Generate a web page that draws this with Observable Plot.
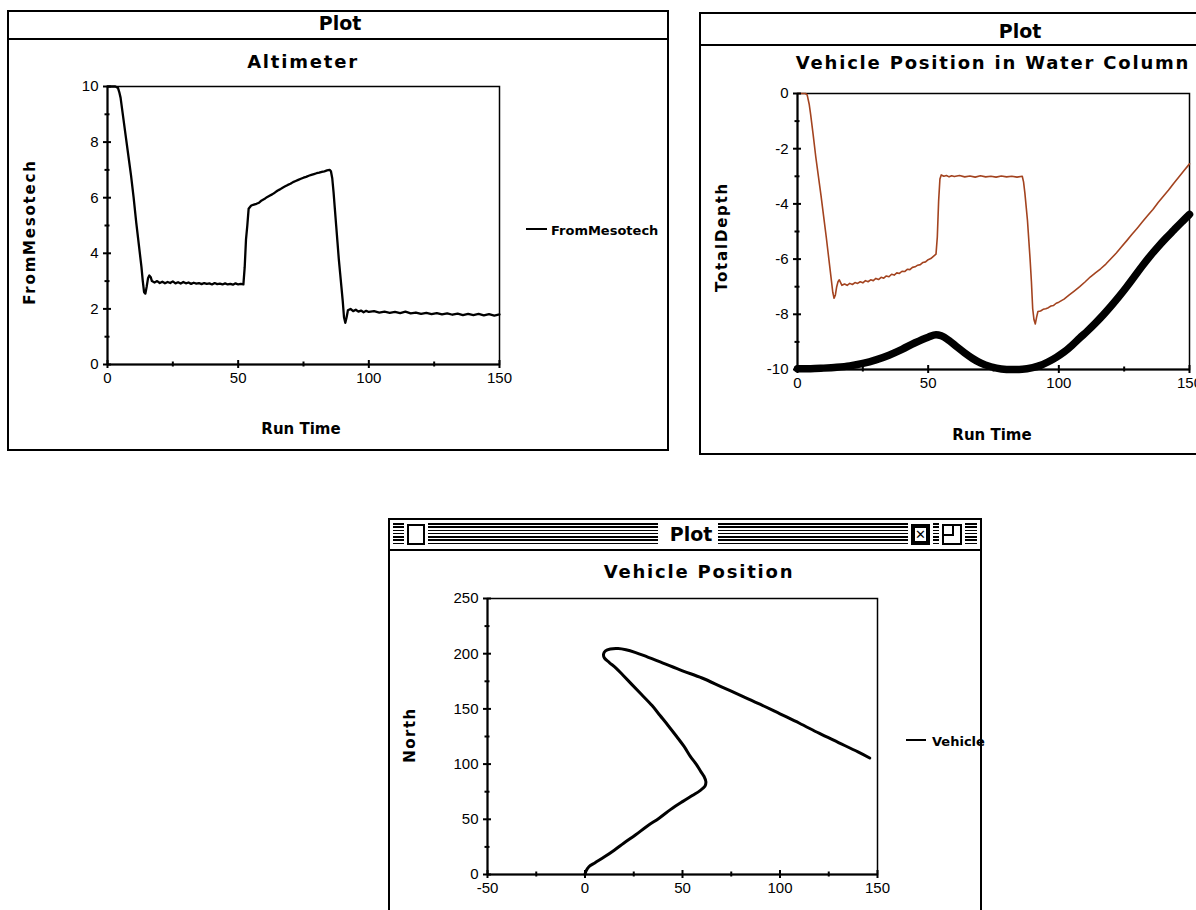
<!DOCTYPE html>
<html><head><meta charset="utf-8">
<script src="https://cdn.jsdelivr.net/npm/d3@7"></script>
<script src="https://cdn.jsdelivr.net/npm/@observablehq/plot@0.6"></script>
<style>
html,body{margin:0;padding:0;background:#fff;}
body{width:1196px;height:910px;overflow:hidden;position:relative;font-family:"DejaVu Sans",sans-serif;color:#000;}
.win{position:absolute;border:2px solid #000;box-sizing:border-box;background:#fff;}
.bar{position:absolute;left:0;right:0;top:0;border-bottom:2px solid #000;box-sizing:border-box;}
.t{position:absolute;white-space:nowrap;transform:translate(-50%,-50%);font-weight:bold;line-height:1;}
.rot{transform:translate(-50%,-50%) rotate(-90deg);}
.legline{position:absolute;height:2px;background:#000;}
.legtext{position:absolute;font:bold 13px "DejaVu Sans";line-height:1;transform:translateY(-50%);white-space:nowrap;}
svg.chart{position:absolute;}
svg.chart text{font-size:15px;font-family:"Liberation Sans",Arial,sans-serif;}
</style></head><body>
<script>
// ---------- DATA ----------
const altimeterSeries = [
[0,10],[1,10],[2,10],[3,10],[4,9.95],[4.5,9.8],[5,9.6],[6,8.9],[7,8.2],[8,7.5],[9,6.8],[10,6.0],[11,5.1],[12,4.3],[13,3.5],[13.5,3.0],[14,2.6],[14.5,2.55],[15,2.8],[15.5,3.1],[16,3.2],[16.5,3.15],[17,3.0],[18,2.95],[19,3.0],[20,2.93],[21,2.98],[22,2.92],[23,2.97],[24,2.93],[25,2.99],[26,2.92],[27,2.96],[28,2.91],[29,2.97],[30,2.92],[31,2.95],[32,2.9],[33,2.94],[34,2.91],[35,2.93],[36,2.89],[37,2.93],[38,2.9],[39,2.92],[40,2.88],[41,2.93],[42,2.89],[43,2.91],[44,2.88],[45,2.92],[46,2.88],[47,2.9],[48,2.87],[49,2.92],[50,2.88],[51,2.9],[52,2.88],[52.5,3.5],[53,4.5],[53.5,5.0],[54,5.6],[55,5.72],[56,5.75],[57,5.78],[58,5.82],[59,5.9],[60,5.95],[61,6.02],[62,6.07],[63,6.12],[64,6.18],[65,6.25],[66,6.3],[67,6.36],[68,6.41],[69,6.46],[70,6.5],[71,6.56],[72,6.6],[73,6.64],[74,6.68],[75,6.72],[76,6.75],[77,6.79],[78,6.82],[79,6.85],[80,6.88],[81,6.9],[82,6.93],[83,6.95],[84,6.98],[85,7.0],[85.5,6.95],[86,6.7],[86.5,6.2],[87,5.6],[87.5,5.0],[88,4.4],[88.5,3.8],[89,3.3],[89.5,2.8],[90,2.3],[90.5,1.7],[91,1.5],[91.5,1.7],[92,1.95],[93,2.0],[94,1.92],[95,1.97],[96,1.9],[97,1.94],[98,1.88],[99,1.93],[100,1.89],[102,1.92],[104,1.87],[106,1.9],[108,1.86],[110,1.89],[112,1.85],[114,1.9],[116,1.84],[118,1.87],[120,1.82],[122,1.86],[124,1.81],[126,1.85],[128,1.8],[130,1.84],[132,1.79],[134,1.83],[136,1.78],[138,1.82],[140,1.78],[142,1.82],[144,1.77],[146,1.81],[148,1.76],[150,1.8]
];
const totalDepthSeries = [
[0,0],[1,0],[2,0],[3,0],[3.7,-0.05],[4.5,-0.4],[5,-0.74],[6,-1.5],[7,-2.3],[8,-3.0],[9,-3.7],[10,-4.45],[11,-5.2],[12,-6.0],[13,-6.8],[13.5,-7.2],[14,-7.42],[14.5,-7.3],[15,-7.0],[15.5,-6.82],[16,-6.75],[16.5,-6.85],[17,-6.95],[18,-6.9],[19,-6.95],[20,-6.88],[21,-6.92],[22,-6.85],[23,-6.88],[24,-6.82],[25,-6.86],[26,-6.78],[27,-6.82],[28,-6.75],[29,-6.78],[30,-6.7],[31,-6.74],[32,-6.66],[33,-6.69],[34,-6.61],[35,-6.64],[36,-6.55],[37,-6.58],[38,-6.5],[39,-6.52],[40,-6.44],[41,-6.45],[42,-6.37],[43,-6.38],[44,-6.3],[45,-6.28],[46,-6.22],[47,-6.2],[48,-6.12],[49,-6.1],[50,-6.02],[51,-5.98],[52,-5.9],[53,-5.82],[53.5,-5.2],[54,-3.9],[54.5,-3.1],[55,-2.95],[56,-3.0],[57,-2.97],[58,-3.02],[59,-2.98],[60,-3.01],[62,-2.97],[64,-3.02],[66,-2.99],[68,-3.03],[70,-2.98],[72,-3.02],[74,-3.0],[76,-3.03],[78,-2.99],[80,-3.02],[82,-3.0],[84,-3.03],[86,-3.0],[86.5,-3.2],[87,-3.6],[88,-4.6],[89,-6.0],[89.5,-6.8],[90,-7.8],[90.5,-8.2],[91,-8.35],[91.5,-8.1],[92,-7.9],[93,-7.88],[94,-7.82],[95,-7.8],[96,-7.76],[97,-7.7],[98,-7.68],[99,-7.6],[100,-7.56],[102,-7.45],[104,-7.3],[106,-7.15],[108,-7.0],[110,-6.83],[112,-6.65],[114,-6.5],[116,-6.35],[118,-6.18],[120,-5.98],[122,-5.78],[124,-5.55],[126,-5.33],[128,-5.1],[130,-4.88],[132,-4.65],[134,-4.42],[136,-4.2],[138,-3.95],[140,-3.72],[142,-3.5],[144,-3.25],[146,-3.02],[148,-2.78],[150,-2.55]
];
const vehicleDepthSeries = [
[0,-9.97],[5,-9.97],[10,-9.95],[15,-9.92],[20,-9.87],[25,-9.78],[30,-9.65],[35,-9.48],[40,-9.27],[45,-9.03],[50,-8.83],[53,-8.74],[55,-8.78],[58,-8.95],[61,-9.18],[64,-9.4],[67,-9.6],[70,-9.76],[74,-9.9],[78,-9.98],[82,-10.0],[86,-9.99],[90,-9.93],[93,-9.85],[96,-9.72],[99,-9.56],[102,-9.37],[105,-9.13],[108,-8.86],[111,-8.6],[114,-8.32],[117,-8.02],[120,-7.7],[123,-7.36],[126,-7.0],[129,-6.62],[132,-6.24],[135,-5.88],[138,-5.55],[141,-5.24],[144,-4.95],[147,-4.66],[150,-4.38]
];
const vehicleTrack = [
[0,0],[0.5,3],[2,7],[5,10.5],[10,16],[15,22],[20,28.5],[26,36],[32,44],[38,51],[44,59],[50,66],[55,71.5],[59,76],[61.5,80],[62,84],[61,89],[59.5,93],[57,100],[54,107],[50.8,116],[47,125],[42.6,135],[38.5,144],[34.4,153],[29,163],[24.1,172],[19.5,180.5],[15.9,187],[12.5,192],[10,196],[9.5,199.5],[10.5,202.5],[13,204.2],[17,204.6],[21,203.5],[26,201],[30,198.5],[40,191.5],[50,184.5],[60,178],[70,170],[80,162],[90,154],[100,145.5],[110,137],[120,128],[130,119.5],[140,111],[146,105.5]
];
const timeTicks = [0,50,100,150], timeMinor = [25,75,125];
const altTicks = [0,2,4,6,8,10], altMinor = [1,3,5,7,9];
const depthTicks = [0,-2,-4,-6,-8,-10], depthMinor = [-1,-3,-5,-7,-9];
const eastTicks = [-50,0,50,100,150], eastMinor = [-25,25,75,125];
const northTicks = [0,50,100,150,200,250], northMinor = [25,75,125,175,225];

// ---------- HELPERS ----------
function el(tag, cls, css, text) {
  const e = document.createElement(tag);
  if (cls) e.className = cls;
  Object.assign(e.style, css || {});
  if (text != null) e.textContent = text;
  document.body.appendChild(e);
  return e;
}
function label(text, x, y, size, spacing, rotate) {
  el("div", "t" + (rotate ? " rot" : ""), {left: x + "px", top: y + "px", fontSize: size + "px", letterSpacing: (spacing || 0) + "px"}, text);
}
function chart(cfg) {
  const pw = cfg.width - cfg.ml - cfg.mr, ph = cfg.height - cfg.mt - cfg.mb;
  const svg = Plot.plot({
    width: cfg.width, height: cfg.height,
    marginLeft: cfg.ml, marginRight: cfg.mr, marginTop: cfg.mt, marginBottom: cfg.mb,
    style: {background: "transparent", fontFamily: "'Liberation Sans', Arial, sans-serif", fontSize: "15px", color: "#000", overflow: "visible"},
    x: {domain: cfg.xDomain, ticks: cfg.xTicks, tickSize: 0, tickPadding: 8, tickFormat: d => String(d), label: null},
    y: {domain: cfg.yDomain, ticks: cfg.yTicks, tickSize: 0, tickPadding: 9, tickFormat: d => String(d), label: null},
    marks: [
      Plot.frame({stroke: "#000", strokeWidth: 1.5}),
      ...cfg.marks,
      Plot.ruleX([cfg.xDomain[0]], {stroke: "#000", strokeWidth: 2}),
      Plot.ruleY([cfg.yDomain[0]], {stroke: "#000", strokeWidth: 2}),
      Plot.tickX(cfg.xTicks, {x: d => d, insetTop: ph - 4, insetBottom: -4, stroke: "#000", strokeWidth: 2}),
      Plot.tickX(cfg.xMinor, {x: d => d, insetTop: ph - 2.5, insetBottom: -2.5, stroke: "#000", strokeWidth: 2}),
      Plot.tickY(cfg.yTicks, {y: d => d, insetLeft: -4, insetRight: pw - 4, stroke: "#000", strokeWidth: 2}),
      Plot.tickY(cfg.yMinor, {y: d => d, insetLeft: -2.5, insetRight: pw - 2.5, stroke: "#000", strokeWidth: 2})
    ]
  });
  svg.classList.add("chart");
  svg.style.left = cfg.left + "px";
  svg.style.top = cfg.top + "px";
  svg.querySelectorAll("text").forEach(t => { t.style.fontSize = "15px"; t.style.fill = "#000"; });
  document.body.appendChild(svg);
}

// ---------- WINDOW 1 : Altimeter ----------
const w1 = el("div", "win", {left: "7px", top: "10px", width: "662px", height: "441px"});
const b1 = document.createElement("div"); b1.className = "bar"; b1.style.height = "28px"; w1.appendChild(b1);
label("Plot", 340, 23, 19, 0);
chart({left: 8, top: 40, width: 660, height: 410, ml: 99, mr: 169, mt: 46, mb: 86,
  xDomain: [0,150], yDomain: [0,10], xTicks: timeTicks, xMinor: timeMinor, yTicks: altTicks, yMinor: altMinor,
  marks: [Plot.line(altimeterSeries, {x: d => d[0], y: d => d[1], stroke: "#000", strokeWidth: 2.3})]});
label("Altimeter", 303, 62, 18, 1.8);
label("FromMesotech", 30, 232, 15, 1.8, true);
label("Run Time", 301, 429, 15, 0);
el("div", "legline", {left: "526px", top: "228px", width: "21px"});
el("div", "legtext", {left: "551px", top: "230px"}, "FromMesotech");

// ---------- WINDOW 2 : Vehicle Position in Water Column ----------
const w2 = el("div", "win", {left: "699px", top: "12px", width: "642px", height: "443px"});
const b2 = document.createElement("div"); b2.className = "bar"; b2.style.height = "32px"; w2.appendChild(b2);
label("Plot", 1020, 31, 19, 0);
chart({left: 700, top: 44, width: 560, height: 409, ml: 97, mr: 71, mt: 49, mb: 84,
  xDomain: [0,150], yDomain: [-10,0], xTicks: timeTicks, xMinor: timeMinor, yTicks: depthTicks, yMinor: depthMinor,
  marks: [
    Plot.line(vehicleDepthSeries, {x: d => d[0], y: d => d[1], stroke: "#000", strokeWidth: 7.5, strokeLinecap: "round", curve: "monotone-x"}),
    Plot.line(totalDepthSeries, {x: d => d[0], y: d => d[1], stroke: "#a3431f", strokeWidth: 1.6})
  ]});
label("Vehicle Position in Water Column", 993, 63, 18, 1.8);
label("TotalDepth", 722, 237, 15, 1.8, true);
label("Run Time", 992, 435, 15, 0);

// ---------- WINDOW 3 : Vehicle Position ----------
const w3 = el("div", "win", {left: "388px", top: "518px", width: "594px", height: "420px"});
const b3 = document.createElement("div"); b3.className = "bar";
Object.assign(b3.style, {height: "31px", background: "#fff"});
w3.appendChild(b3);
const stripes = document.createElement("div");
Object.assign(stripes.style, {position: "absolute", left: "3px", right: "3px", top: "3px", height: "23px",
  background: "repeating-linear-gradient(to bottom, #000 0px, #000 1.6px, #fff 1.6px, #fff 3.3px)"});
b3.appendChild(stripes);
function box(parent, left, w, extra) {
  const d = document.createElement("div");
  Object.assign(d.style, {position: "absolute", left: left + "px", top: "4px", width: w + "px", height: "17px",
    border: "2px solid #000", background: "#fff", boxShadow: "0 0 0 3px #fff"}, extra || {});
  parent.appendChild(d); return d;
}
box(b3, 17, 14);
const gap = document.createElement("div");
Object.assign(gap.style, {position: "absolute", left: "268px", width: "60px", top: "0px", height: "29px", background: "#fff"});
b3.appendChild(gap);
const xb = box(b3, 521, 15, {background: "#000"});
const xin = document.createElement("div");
Object.assign(xin.style, {position: "absolute", left: "2px", top: "2px", right: "2px", bottom: "2px", background: "#fff",
  color: "#000", font: "bold 13px 'DejaVu Sans'", lineHeight: "13px", textAlign: "center"});
xin.textContent = "✕"; xb.appendChild(xin);
const zb = box(b3, 552, 16);
const zin = document.createElement("div");
Object.assign(zin.style, {position: "absolute", left: "-1px", top: "-1px", width: "9px", height: "9px", borderRight: "2px solid #000", borderBottom: "2px solid #000"});
zb.appendChild(zin);
label("Plot", 691, 534, 19, 0);
chart({left: 390, top: 549, width: 594, height: 361, ml: 97, mr: 107, mt: 49, mb: 36,
  xDomain: [-50,150], yDomain: [0,250], xTicks: eastTicks, xMinor: eastMinor, yTicks: northTicks, yMinor: northMinor,
  marks: [Plot.line(vehicleTrack, {x: d => d[0], y: d => d[1], stroke: "#000", strokeWidth: 3, strokeLinejoin: "round", curve: "catmull-rom"})]});
label("Vehicle Position", 699, 572, 18, 1.8);
label("North", 410, 735, 15, 1.5, true);
el("div", "legline", {left: "906px", top: "739px", width: "20px"});
el("div", "legtext", {left: "932px", top: "741px"}, "Vehicle");
</script>
</body></html>
